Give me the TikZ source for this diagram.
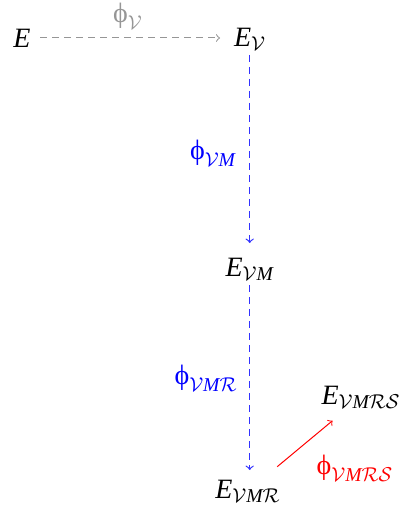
\documentclass[tikz,border=0pt]{standalone}
\usepackage{amsmath}
\usepackage{fontspec}
\setmainfont{Liberation Serif}
\usetikzlibrary{arrows}
\definecolor{phigray}{RGB}{150,150,150}
\definecolor{mapblue}{RGB}{0,0,255}
\definecolor{lineblue}{RGB}{50,50,255}
\definecolor{mapred}{RGB}{255,0,0}
\newcommand{\iE}{\textit{E}}
\newcommand{\iM}{\textit{M}}
\newcommand{\uphi}{\textup{ϕ}}
\tikzset{
  obj/.style={inner sep=0pt, font=\fontsize{14}{17}\selectfont},
  lbl/.style={inner sep=0pt, font=\fontsize{14}{17}\selectfont},
  map/.style={->, >=to, line width=0.5pt},
  dashmap/.style={map, dash pattern=on 3.5pt off 2.5pt},
}
\begin{document}
\begin{tikzpicture}[x=0.5pt, y=-0.5pt]
\useasboundingbox (0,0) rectangle (401,508);
\node[obj] (e) at (22,38) {$\iE$};
\node[obj] (ev) at (250,39) {$\iE_{\mathcal{V}}$};
\node[obj] (evm) at (249.7,269) {$\iE_{\mathcal{V}\iM}$};
\node[obj] (evmr) at (248,491) {$\iE_{\mathcal{V}\iM\mathcal{R}}$};
\node[obj] (evmrs) at (361,397) {$\iE_{\mathcal{V}\iM\mathcal{R}\mathcal{S}}$};

\node[lbl, text=phigray] (l1) at (128,16) {$\uphi_{\mathcal{V}}$};
\node[lbl, text=mapblue] (l2) at (213,153) {$\uphi_{\mathcal{V}\iM}$};
\node[lbl, text=mapblue] (l3) at (206,378) {$\uphi_{\mathcal{V}\iM\mathcal{R}}$};
\node[lbl, text=mapred] (l4) at (355,468) {$\uphi_{\mathcal{V}\iM\mathcal{R}\mathcal{S}}$};

\draw[dashmap, draw=phigray, shorten <=9pt, shorten >=15pt] (e.center) -- (e.center -| ev.center);
\draw[dashmap, line width=0.6pt, draw=lineblue, shorten <=8pt, shorten >=13pt] (ev.center -| evm.center) -- (evm.center);
\draw[dashmap, line width=0.6pt, draw=lineblue, shorten <=8pt, shorten >=10.5pt] (evm.center) -- (evm.center |- evmr.center);
\draw[map, draw=mapred, shorten <=19pt, shorten >=18.5pt] (evmr.center) -- (evmrs.center);
\end{tikzpicture}
\end{document}
